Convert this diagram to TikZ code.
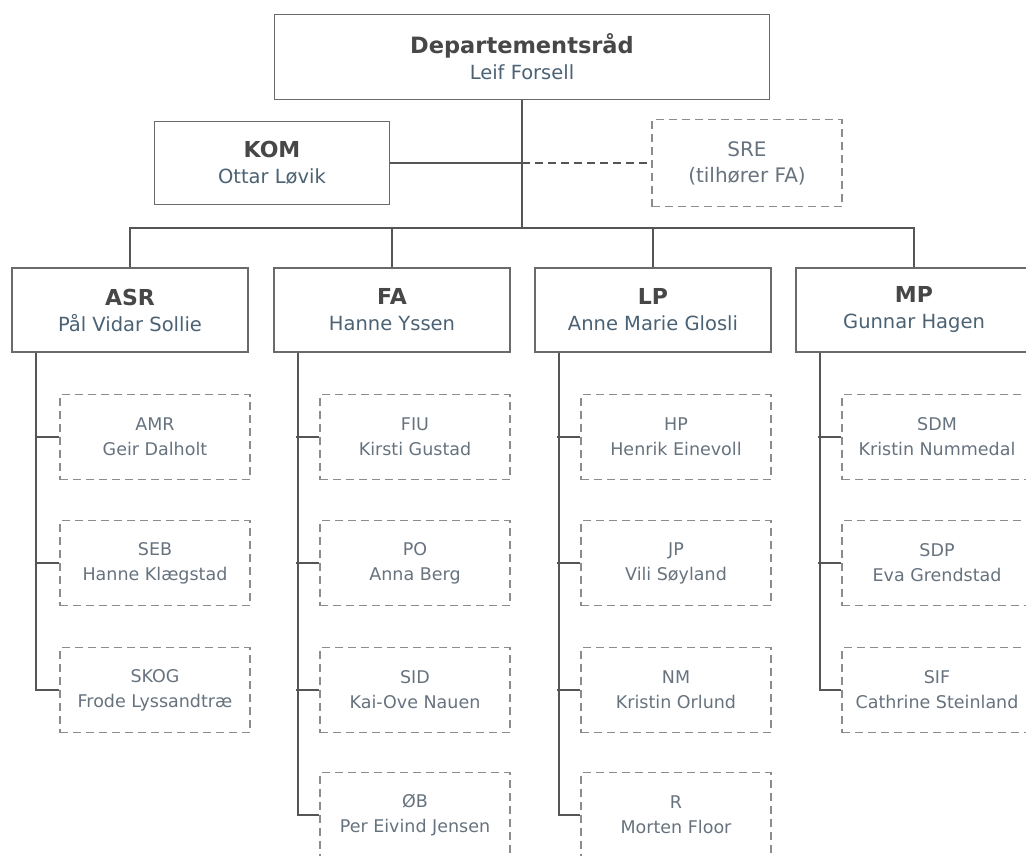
\documentclass[tikz,border=0pt]{standalone}
\usepackage{fontspec}
\setmainfont{DejaVu Sans}
\usepackage{tikz}
\usetikzlibrary{positioning}
\definecolor{headcol}{HTML}{474747}
\definecolor{namecol}{HTML}{4B6274}
\definecolor{subcol}{HTML}{66727E}
\definecolor{boxcol}{HTML}{6A6A6A}
\definecolor{dashcol}{HTML}{8C8C8C}
\definecolor{linecol}{HTML}{555555}

\begin{document}
\begin{tikzpicture}[x = 1pt, y = -1pt,
  unit/.style = {draw = boxcol, line width = 1.8pt, fill = white, align = center,
    minimum width = 236pt, minimum height = 84pt, inner sep = 0pt,
    font = \fontsize{19.5}{26}\selectfont, text = namecol},
  office/.style = {draw = dashcol, line width = 1.8pt, dash pattern = on 8pt off 5pt,
    align = center, minimum width = 190pt, minimum height = 85pt, inner sep = 0pt,
    font = \fontsize{17.5}{25}\selectfont, text = subcol},
  link/.style = {draw = linecol, line width = 1.7pt}]
\useasboundingbox (0, 0) rectangle (1026, 855);
%\draw [help lines, step = 50] (0, 0) grid (1026, 855);
\node [unit, minimum width = 495pt, minimum height = 85pt] (dep) at (522, 57)
  {{\color{headcol}\textbf{\fontsize{22.5}{26}\selectfont Departementsråd}}\\Leif Forsell};
\node [unit, minimum width = 235pt, minimum height = 83pt] (kom) at (272, 163)
  {{\color{headcol}\textbf{\fontsize{22}{26}\selectfont KOM}}\\Ottar Løvik};
\node [office, minimum height = 87pt, font = \fontsize{20}{26}\selectfont] (sre) at (747, 163)
  {SRE\\(tilhører FA)};
% departementets avdelinger
\node [unit] (asr) at (130, 310) {{\color{headcol}\textbf{\fontsize{22}{26}\selectfont ASR}}\\Pål Vidar Sollie};
\node [unit] (fa) at (392, 310) {{\color{headcol}\textbf{\fontsize{22}{26}\selectfont FA}}\\Hanne Yssen};
\node [unit] (lp) at (653, 310) {{\color{headcol}\textbf{\fontsize{22}{26}\selectfont LP}}\\Anne Marie Glosli};
\node [unit] (mp) at (914, 310) {{\color{headcol}\textbf{\fontsize{22}{26}\selectfont MP}}\\Gunnar Hagen};
% seksjoner
\node [office] (amr) at (155, 437) {AMR\\Geir Dalholt};
\node [office] (seb) at (155, 563) {SEB\\Hanne Klægstad};
\node [office] (skog) at (155, 690) {SKOG\\Frode Lyssandtræ};
\node [office] (fiu) at (415, 437) {FIU\\Kirsti Gustad};
\node [office] (po) at (415, 563) {PO\\Anna Berg};
\node [office] (sid) at (415, 690) {SID\\Kai-Ove Nauen};
\node [office] (ob) at (415, 815) {ØB\\Per Eivind Jensen};
\node [office] (hp) at (676, 437) {HP\\Henrik Einevoll};
\node [office] (jp) at (676, 563) {JP\\Vili Søyland};
\node [office] (nm) at (676, 690) {NM\\Kristin Orlund};
\node [office] (r) at (676, 815) {R\\Morten Floor};
\node [office] (sdm) at (937, 437) {SDM\\Kristin Nummedal};
\node [office] (sdp) at (937, 563) {SDP\\Eva Grendstad};
\node [office] (sif) at (937, 690) {SIF\\Cathrine Steinland};
% linjer
\coordinate (bus) at (522, 228);
\draw [link] (dep.south) -- (bus);
\draw [link] (kom.east) -- (kom.east -| bus);
\draw [link, dash pattern = on 8pt off 5pt] (kom.east -| bus) -- (sre.west);
\draw [link] (asr.north) |- (bus) -| (mp.north);
\draw [link] (fa.north) -- (fa.north |- bus);
\draw [link] (lp.north) -- (lp.north |- bus);
\foreach \dept/\last in {asr/skog, fa/ob, lp/r, mp/sif}
  \draw [link] ([xshift = 25pt]\dept.south west) |- (\last.west);
\foreach \sec in {amr, seb, fiu, po, sid, hp, jp, nm, sdm, sdp}
  \draw [link] (\sec.west) -- ++(-23, 0);
\end{tikzpicture}
\end{document}
